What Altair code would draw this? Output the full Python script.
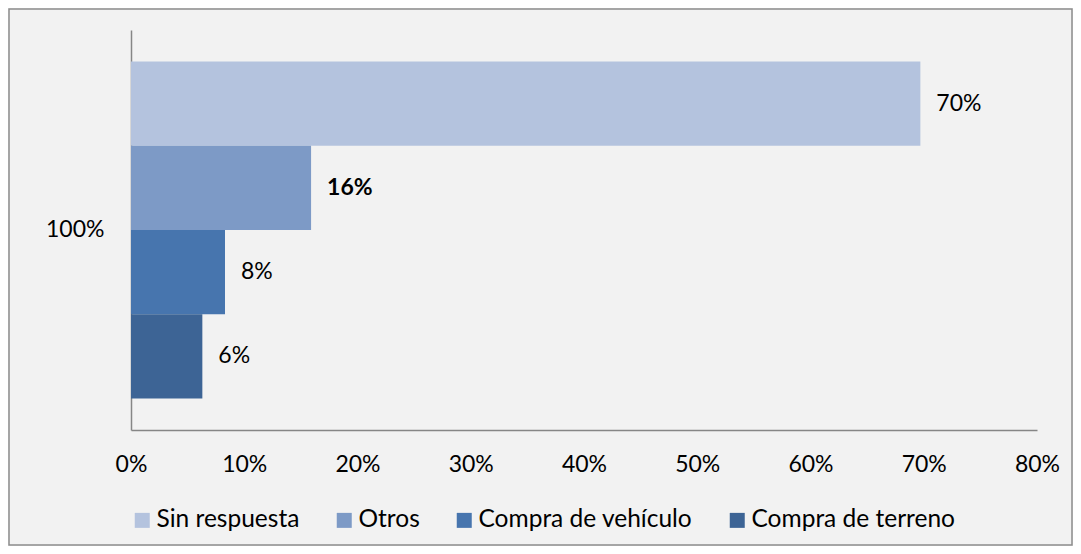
import altair as alt
import pandas as pd

series = ["Sin respuesta", "Otros", "Compra de vehículo", "Compra de terreno"]
values = [0.697, 0.159, 0.083, 0.063]
category = ["100%", "100%", "100%", "100%"]
colors = ["#B4C3DE", "#7D9AC6", "#4775AE", "#3D6495"]
x_ticks = [0.0, 0.1, 0.2, 0.3, 0.4, 0.5, 0.6, 0.7, 0.8]
bold_series = ["Otros"]

df = pd.DataFrame({"cat": category, "serie": series, "valor": values})

W, H = 906, 400
FONT = "Lato"
FS = 23
FS_LEG = 24.5
AXIS_COLOR = "#868686"

base = alt.Chart(df).encode(
    y=alt.Y(
        "cat:N",
        title=None,
        scale=alt.Scale(paddingInner=0, paddingOuter=0.0935),
        axis=alt.Axis(ticks=False, labelPadding=27, labelFontSize=FS, labelFont=FONT,
                      labelColor="#000000", domainColor=AXIS_COLOR, domainWidth=1.5),
    ),
    yOffset=alt.YOffset("serie:N", sort=series, scale=alt.Scale(paddingInner=0, paddingOuter=0)),
    x=alt.X(
        "valor:Q",
        title=None,
        scale=alt.Scale(domain=[0, 0.8], nice=False),
        axis=alt.Axis(format=".0%", values=x_ticks, ticks=False, grid=False, labelPadding=23,
                      labelFlush=False, labelFontSize=FS, labelFont=FONT, labelColor="#000000",
                      domainColor=AXIS_COLOR, domainWidth=1.5),
    ),
)

bars = base.mark_bar().encode(
    color=alt.Color(
        "serie:N",
        sort=series,
        scale=alt.Scale(domain=series, range=colors),
        legend=alt.Legend(
            title=None, orient="none", legendX=-1, legendY=478, direction="horizontal",
            columns=4, symbolType="square", symbolSize=225, symbolStrokeWidth=0,
            labelFontSize=FS_LEG, labelFont=FONT, labelColor="#000000", labelOffset=2,
            labelLimit=0, columnPadding=32, padding=0,
        ),
    )
)

labels_normal = base.transform_filter(
    alt.FieldOneOfPredicate(field="serie", oneOf=[s for s in series if s not in bold_series])
).mark_text(align="left", baseline="middle", dx=16, fontSize=FS, font=FONT, color="#000000").encode(
    text=alt.Text("valor:Q", format=".0%")
)

labels_bold = base.transform_filter(
    alt.FieldOneOfPredicate(field="serie", oneOf=bold_series)
).mark_text(align="left", baseline="middle", dx=16, fontSize=FS, font=FONT, fontWeight="bold",
            color="#000000").encode(
    text=alt.Text("valor:Q", format=".0%")
)

border = alt.Chart(alt.Data(values=[{}])).mark_rect(
    fill="transparent", stroke="#8C8C8C", strokeWidth=1.5
).encode(
    x=alt.value(-122), x2=alt.value(W + 35), y=alt.value(-21), y2=alt.value(H + 115)
)

chart = alt.layer(border, bars, labels_normal, labels_bold).properties(
    width=W, height=H,
    background="#F2F2F2",
    autosize=alt.AutoSizeParams(type="none"),
    padding={"left": 123, "top": 22, "right": 36, "bottom": 116},
).configure_view(strokeWidth=0)

chart.save("out.html", embed_options={"renderer": "svg", "actions": False})
